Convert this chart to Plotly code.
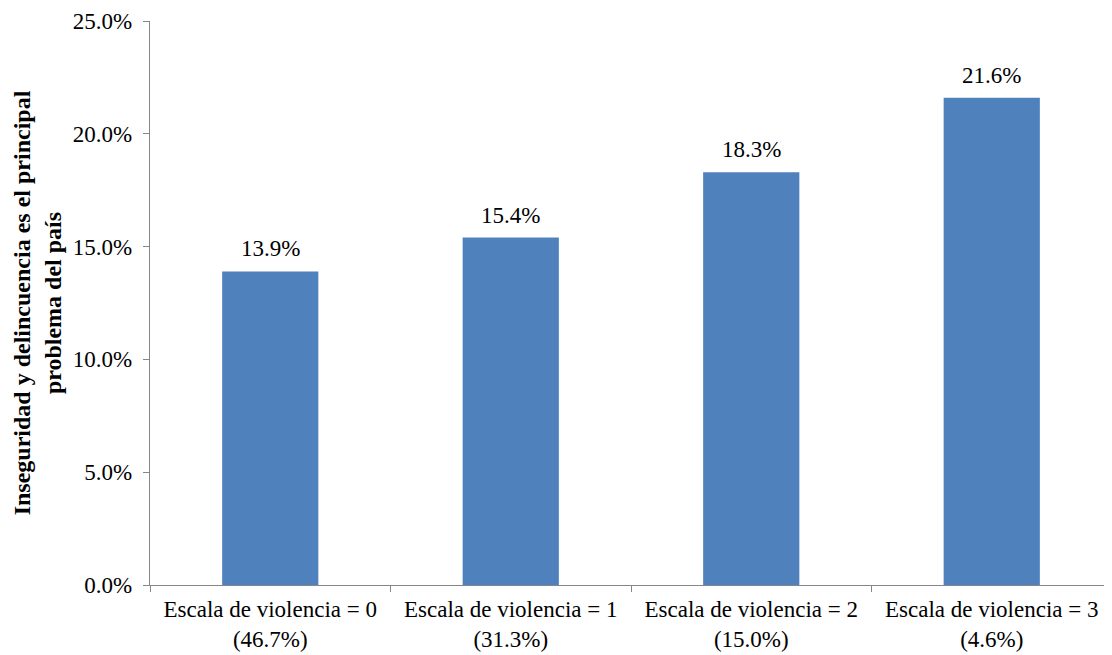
import plotly.graph_objects as go

categories = ["Escala de violencia = 0<br>(46.7%)", "Escala de violencia = 1<br>(31.3%)",
              "Escala de violencia = 2<br>(15.0%)", "Escala de violencia = 3<br>(4.6%)"]
values = [0.139, 0.154, 0.183, 0.216]
labels = ["13.9%", "15.4%", "18.3%", "21.6%"]
y_title = "Inseguridad y delincuencia es el principal<br>problema del país"

FONT = "Liberation Serif, Times New Roman, serif"
AXIS = "#868686"
FS = 23

fig = go.Figure(go.Bar(
    x=categories, y=values,
    marker=dict(color="#4F81BD", line=dict(width=0)),
    width=0.4, hoverinfo="x+y",
))

for c, v, t in zip(categories, values, labels):
    fig.add_annotation(x=c, y=v, text=t, showarrow=False, yanchor="bottom",
                       yshift=8, font=dict(family=FONT, size=FS, color="#000"))

fig.update_layout(
    width=1104, height=647,
    margin=dict(l=142, r=0, t=13, b=70),
    plot_bgcolor="white", paper_bgcolor="white",
    showlegend=False,
    font=dict(family=FONT, size=FS, color="#000"),
    xaxis=dict(type="category", showline=True, linecolor=AXIS, linewidth=1.3,
               ticks="outside", tickson="boundaries", ticklen=6, tickcolor=AXIS,
               showgrid=False, automargin=False, ticklabelstandoff=3,
               tickfont=dict(family=FONT, size=FS, color="#000")),
    yaxis=dict(range=[0, 0.25], dtick=0.05, tickformat=".1%", showline=True,
               linecolor=AXIS, linewidth=1.3, ticks="outside", ticklen=6, tickcolor=AXIS,
               showgrid=False, zeroline=False, automargin=False, ticklabelstandoff=6,
               tickfont=dict(family=FONT, size=FS, color="#000"),
               title=dict(text="<b>" + y_title + "</b>", standoff=4,
                          font=dict(family=FONT, size=24, color="#000"))),
)

fig.write_html("out.html")
